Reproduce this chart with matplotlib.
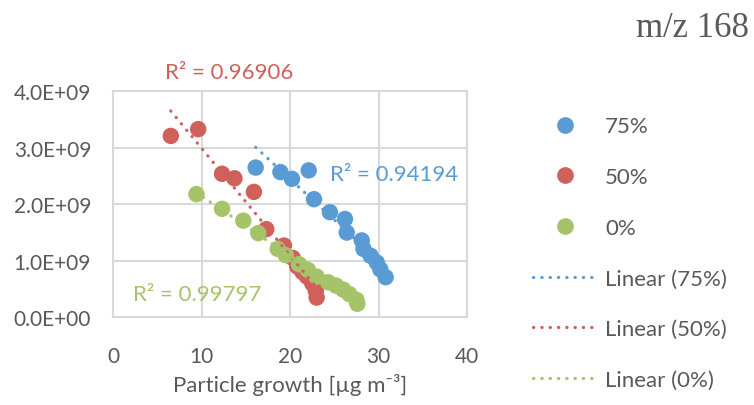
import numpy as np
import matplotlib.pyplot as plt
from matplotlib.lines import Line2D

# data (x = particle growth, y = signal)
x75 = [16.1, 18.9, 20.2, 22.1, 22.7, 24.5, 26.2, 26.4, 28.1, 28.3, 29.1, 29.8, 30.2, 30.8]
y75 = [2.65, 2.57, 2.45, 2.60, 2.09, 1.86, 1.74, 1.50, 1.36, 1.21, 1.09, 0.97, 0.85, 0.71]

x50 = [6.5, 9.6, 12.3, 13.7, 15.9, 17.3, 19.3, 20.3, 20.8, 21.4, 21.9, 22.5, 22.9, 23.0]
y50 = [3.21, 3.33, 2.54, 2.46, 2.22, 1.56, 1.27, 1.05, 0.90, 0.80, 0.72, 0.60, 0.47, 0.35]

x0 = [9.4, 12.3, 14.7, 16.4, 18.6, 19.5, 21.0, 22.0, 23.0, 24.3, 25.2, 26.0, 26.7, 27.5, 27.6]
y0 = [2.18, 1.92, 1.71, 1.49, 1.21, 1.10, 0.94, 0.84, 0.72, 0.62, 0.56, 0.49, 0.41, 0.31, 0.24]

series = [
    ("75%", x75, y75, "#5B9BD5", "R² = 0.94194"),
    ("50%", x50, y50, "#D0605A", "R² = 0.96906"),
    ("0%", x0, y0, "#A5C46A", "R² = 0.99797"),
]
r2_pos = {"75%": (24.5, 2.54e9), "50%": (5.8, 4.34e9), "0%": (2.2, 0.41e9)}

xticks = [0, 10, 20, 30, 40]
yticks = [0, 1e9, 2e9, 3e9, 4e9]

plt.rcParams['font.family'] = ['Lato', 'DejaVu Sans']
txt = "#595959"
dots = (0, (0.1, 2.5))

fig = plt.figure(figsize=(7.54, 4.06), dpi=100)
ax = fig.add_axes([0.1503, 0.216, 0.469, 0.5567])

marker_handles = []
line_handles = []
for name, xs, ys, col, r2 in series:
    xs = np.array(xs)
    ys = np.array(ys) * 1e9
    ax.scatter(xs, ys, s=140, color=col, edgecolors='none', zorder=3)
    k, b = np.polyfit(xs, ys, 1)
    xl = np.array([xs.min(), xs.max()])
    ax.plot(xl, k * xl + b, color=col, lw=2.3, linestyle=dots,
            dash_capstyle='round', zorder=4)
    ax.text(r2_pos[name][0], r2_pos[name][1], r2, color=col, fontsize=16,
            va='center', ha='left', clip_on=False)
    marker_handles.append(Line2D([], [], color=col, marker='o', ls='none',
                                 markersize=11, label=name))
    line_handles.append(Line2D([], [], color=col, lw=2.3, linestyle=dots,
                               dash_capstyle='round', label="Linear (%s)" % name))

ax.set_xlim(0, 40)
ax.set_ylim(0, 4e9)
ax.set_xticks(xticks)
ax.set_yticks(yticks)
ax.set_xticklabels([str(v) for v in xticks])
ax.set_yticklabels(["%.1fE+09" % (v / 1e9) if v else "0.0E+00" for v in yticks])
ax.tick_params(length=0, labelsize=15, labelcolor=txt)
ax.tick_params(axis='x', pad=21)
ax.tick_params(axis='y', pad=16)
ax.grid(True, color="#D9D9D9", lw=1.5)
ax.set_axisbelow(True)
for sp in ax.spines.values():
    sp.set_color("#D9D9D9")
    sp.set_linewidth(1.5)

ax.set_xlabel("Particle growth [µg m⁻³]", fontsize=16, color=txt, labelpad=5)

fig.legend(handles=marker_handles + line_handles, loc='upper left',
           bbox_to_anchor=(0.68, 0.76), frameon=False, fontsize=16,
           labelcolor=txt, handlelength=2.9, handletextpad=0.35, labelspacing=1.38)

fig.text(0.993, 0.93, "m/z 168", ha='right', va='center', fontsize=25,
         family='Liberation Serif', color=txt)

fig.savefig("out.png", dpi=100)
